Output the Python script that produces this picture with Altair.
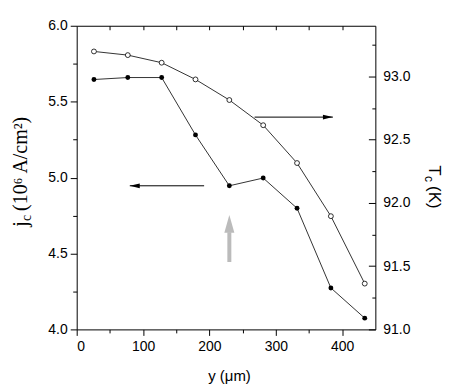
import altair as alt
import pandas as pd

# ---------------- data ----------------
y_um = [26, 77, 128, 179, 230, 281, 332, 383, 434]
jc_vals = [5.646, 5.659, 5.659, 5.281, 4.946, 4.997, 4.798, 4.273, 4.074]
tc_vals = [93.197, 93.168, 93.108, 92.976, 92.813, 92.614, 92.315, 91.895, 91.362]

x_ticks = [0, 50, 100, 150, 200, 250, 300, 350, 400]
x_top_ticks = [50, 100, 150, 200, 250, 300, 350, 400]
jc_ticks = [4.0, 4.25, 4.5, 4.75, 5.0, 5.25, 5.5, 5.75, 6.0]
tc_ticks = [91.0, 91.25, 91.5, 91.75, 92.0, 92.25, 92.5, 92.75, 93.0, 93.25]

# annotation arrows (data coordinates)
left_arrow_x = [192, 80]      # tail, tip
left_arrow_jc = 4.946
right_arrow_x = [268, 386]    # tail, tip
right_arrow_tc = 92.678
gray_arrow_x = 230
gray_arrow_jc = [4.444, 4.64, 4.754]  # tail, head base, tip

x_domain = [0, 450]
jc_domain = [4.0, 6.0]
tc_domain = [91.0, 93.4]

FONT = "Liberation Sans"
SERIF = "Liberation Serif"

df = pd.DataFrame({"y": y_um, "jc": jc_vals, "tc": tc_vals})

# ---------------- axes ----------------
x_scale = alt.Scale(domain=x_domain, nice=False, zero=False)
bottom_axis = alt.Axis(
    orient="bottom", values=x_ticks, title=None, grid=False, domain=False,
    tickSize={"condition": {"test": "datum.value % 100 === 0", "value": 6}, "value": 3.5},
    labelExpr="datum.value % 100 === 0 ? datum.label : ''",
    labelFont=FONT, labelFontSize=14, labelColor="black", labelPadding=4,
    tickColor="black", tickWidth=1,
)
top_axis = alt.Axis(
    orient="top", values=x_top_ticks, title=None, grid=False, domain=False,
    labels=False, tickSize={"expr": "-4"}, tickColor="black", tickWidth=1,
)
major_jc = "abs(datum.value*2 - round(datum.value*2)) < 0.001"
left_axis = alt.Axis(
    orient="left", values=jc_ticks, title=None, grid=False, domain=False,
    tickSize={"condition": {"test": major_jc, "value": 6.5}, "value": 4},
    labelExpr=f"{major_jc} ? format(datum.value, '.1f') : ''",
    labelFont=FONT, labelFontSize=14, labelColor="black", labelPadding=3,
    tickColor="black", tickWidth=1,
)
right_axis = alt.Axis(
    orient="right", values=tc_ticks, title=None, grid=False, domain=False,
    tickSize={"condition": {"test": major_jc, "value": -7}, "value": -3.5},
    labelExpr=f"{major_jc} ? format(datum.value, '.1f') : ''",
    labelFont=FONT, labelFontSize=14, labelColor="black", labelPadding=14.5,
    tickColor="black", tickWidth=1,
)

jc_scale = alt.Scale(domain=jc_domain, nice=False, zero=False)
tc_scale = alt.Scale(domain=tc_domain, nice=False, zero=False)

def X(field, axis):
    return alt.X(field, scale=x_scale, axis=axis)

def YJ(field):
    return alt.Y(field, scale=jc_scale, axis=left_axis)

def YT(field):
    return alt.Y(field, scale=tc_scale, axis=right_axis)

base = alt.Chart(df)

# ---------------- jc group (left axis) ----------------
jc_line = base.mark_line(color="black", strokeWidth=0.8).encode(
    x=X("y:Q", bottom_axis), y=YJ("jc:Q"))
jc_pts = base.mark_point(filled=True, color="black", size=24, opacity=1).encode(
    x=X("y:Q", bottom_axis), y=YJ("jc:Q"))

la = pd.DataFrame({"x1": [left_arrow_x[0]], "x2": [left_arrow_x[1]], "v": [left_arrow_jc]})
la_shaft = alt.Chart(la).mark_rule(color="black", strokeWidth=1).encode(
    x=X("x1:Q", bottom_axis), x2="x2:Q", y=YJ("v:Q"))
la_head = alt.Chart(la).mark_point(
    shape="M0,0 L1,-0.24 L1,0.24 Z", filled=True, color="black", size=400, opacity=1
).encode(x=X("x2:Q", bottom_axis), y=YJ("v:Q"))

ga = pd.DataFrame({"x": [gray_arrow_x], "t": [gray_arrow_jc[0]], "b": [gray_arrow_jc[1]], "tip": [gray_arrow_jc[2]]})
ga_shaft = alt.Chart(ga).mark_rule(color="#bbbbbb", strokeWidth=4).encode(
    x=X("x:Q", bottom_axis), y=YJ("t:Q"), y2="b:Q")
ga_head = alt.Chart(ga).mark_point(
    shape="M0,0 L-0.28,1 L0.28,1 Z", filled=True, color="#bbbbbb", size=1296, opacity=1
).encode(x=X("x:Q", bottom_axis), y=YJ("tip:Q"))

jc_group = alt.layer(jc_line, jc_pts, la_shaft, la_head, ga_shaft, ga_head)

# ---------------- Tc group (right axis) ----------------
tc_line = base.mark_line(color="black", strokeWidth=0.8).encode(
    x=X("y:Q", top_axis), y=YT("tc:Q"))
tc_pts = base.mark_point(filled=True, fill="white", stroke="black", strokeWidth=0.8,
                         size=24, opacity=1).encode(
    x=X("y:Q", top_axis), y=YT("tc:Q"))
ra = pd.DataFrame({"x1": [right_arrow_x[0]], "x2": [right_arrow_x[1]], "v": [right_arrow_tc]})
ra_shaft = alt.Chart(ra).mark_rule(color="black", strokeWidth=1).encode(
    x=X("x1:Q", top_axis), x2="x2:Q", y=YT("v:Q"))
ra_head = alt.Chart(ra).mark_point(
    shape="M0,0 L-1,-0.24 L-1,0.24 Z", filled=True, color="black", size=400, opacity=1
).encode(x=X("x2:Q", top_axis), y=YT("v:Q"))
tc_group = alt.layer(tc_line, tc_pts, ra_shaft, ra_head)

# ---------------- titles (rich text pieces) ----------------
one = pd.DataFrame({"a": [0]})

def txt(s, x, y, angle, size, font, dx=0, dy=0, align="left"):
    return alt.Chart(one).mark_text(
        text=s, angle=angle, fontSize=size, font=font, color="black",
        align=align, baseline="alphabetic", dx=dx, dy=dy,
    ).encode(x=alt.value(x), y=alt.value(y))

# left title: j_c (10^6 A/cm^2), rotated to read bottom-to-top
LX, LY = -50, 202
left_title = [
    txt("j", LX, LY, 270, 20, SERIF),
    txt("c", LX, LY, 270, 14, SERIF, dx=6, dy=4.5),
    txt("(10\u2076 A/cm\u00b2)", LX, LY, 270, 20, SERIF, dx=16),
]
# right title: T_c (K), rotated to read top-to-bottom
RX, RY = 354, 140
right_title = [
    txt("T", RX, RY, 90, 17, FONT),
    txt("c", RX, RY, 90, 12, FONT, dx=11, dy=4),
    txt("(K)", RX, RY, 90, 17, FONT, dx=21),
]
x_title = [txt("y (\u03bcm)", 153.5, 357, 0, 15, FONT, align="center")]

chart = alt.layer(
    jc_group, tc_group, *left_title, *right_title, *x_title
).resolve_scale(y="independent").properties(
    width=300, height=305,
    background="white",
    autosize=alt.AutoSizeParams(type="none"),
    padding={"left": 69, "top": 17, "right": 80, "bottom": 55},
).configure_view(stroke="black", strokeWidth=1)

chart.save("out.html", embed_options={"renderer": "svg", "actions": False})
